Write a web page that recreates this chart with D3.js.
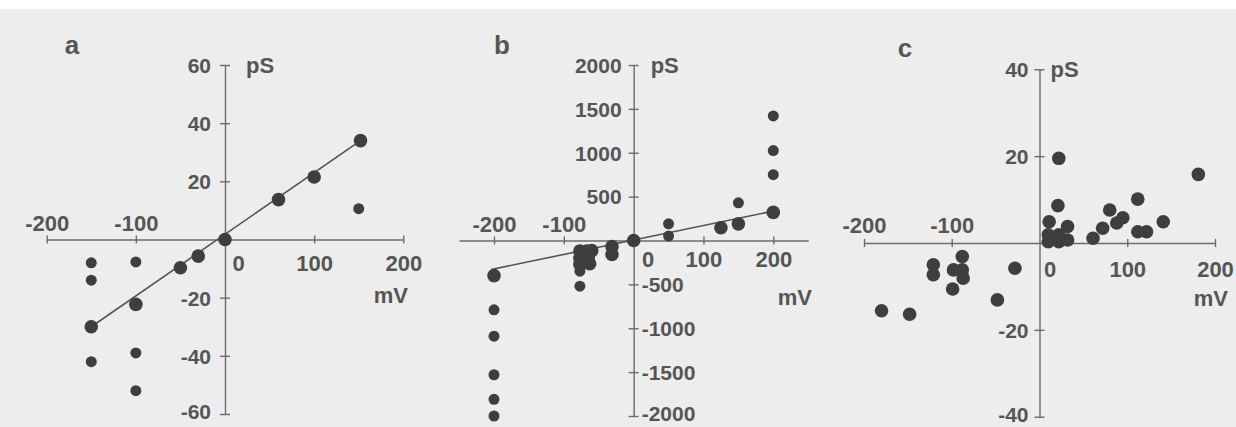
<!DOCTYPE html>
<html lang="en">
<head>
<meta charset="UTF-8">
<title>Conductance vs voltage</title>
<script src="https://d3js.org/d3.v7.min.js"></script>
<style>
  body { margin: 0; background: #ffffff; }
  svg { display: block; }
  text { font-family: "Liberation Sans", Arial, sans-serif; fill: #555; }
</style>
</head>
<body>
<script>
// panel a
const aXTicks = [-200, -100, 0, 100, 200]
const aYTicks = [-60, -40, -20, 20, 40, 60]
const aFitPts = [[-150, -30], [-100, -22.3], [-50, -9.7], [-30, -5.7], [0, 0], [60, 13.7], [100, 21.5], [152, 34]]
const aOtherPts = [[150, 10.6], [-150, -8], [-150, -14], [-150, -42], [-100, -7.7], [-100, -39], [-100, -52]]
const aFitLine = [[-150, -30], [152, 34]]

// panel b
const bXTicks = [-200, -100, 0, 100, 200]
const bYTicks = [-2000, -1500, -1000, -500, 500, 1000, 1500, 2000]
const bFitPts = [[200, 320], [150, 190], [125, 145], [0, 0], [-200, -400], [-31, -70], [-31, -160],
                 [-77, -120], [-67, -120], [-60, -115], [-77, -200], [-65, -190], [-77, -270], [-63, -265]]
const bOtherPts = [[200, 1420], [200, 1025], [200, 750], [150, 430], [50, 190], [50, 50],
                   [-77, -350], [-77, -520], [-200, -790], [-200, -1090], [-200, -1530], [-200, -1810], [-200, -2000]]
const bFitLine = [[-204, -330], [200, 335]]

// panel c
const cXTicks = [-200, -100, 0, 100, 200]
const cYTicks = [-40, -20, 20, 40]
const cPts = [[22, 19.5], [181, 15.8], [21, 8.6], [11, 4.9], [10, 1.9], [10, 0.3], [22, 1.9], [22, 0.3],
              [32, 3.8], [32, 0.7], [61, 1.1], [72, 3.4], [80, 7.6], [88, 4.6], [95, 5.8], [112, 10.1],
              [112, 2.6], [122, 2.6], [141, 4.9],
              [-121, -5.0], [-121, -7.3], [-88, -3.1], [-98, -6.2], [-88, -6.2], [-87, -8.1], [-99, -10.6],
              [-28, -5.8], [-48, -13.1], [-148, -16.4], [-180, -15.6]]

const panels = [
  { letter: "a", letterX: 72, letterY: 45,
    xDomain: [-200, 200], xRange: [46.7, 403.3], yDomain: [-60, 60], yRange: [414, 65],
    xTicks: aXTicks, yTicks: aYTicks, big: aFitPts, small: aOtherPts, fit: aFitLine,
    negDy: -16, posDy: 24, zeroDx: 13, yLabDx: -14, pSDx: 21, mVx: 408, mVy: 295 },
  { letter: "b", letterX: 502, letterY: 45,
    xDomain: [-250, 250], xRange: [459.1, 808.2], yDomain: [-2000, 2000], yRange: [416, 65],
    xTicks: bXTicks, yTicks: bYTicks, big: bFitPts, small: bOtherPts, fit: bFitLine,
    negDy: -16, posDy: 19, zeroDx: 14, yLabDx: -12, negYRight: 8, pSDx: 17, mVx: 812, mVy: 297 },
  { letter: "c", letterX: 905, letterY: 48,
    xDomain: [-200, 200], xRange: [864, 1215], yDomain: [-40, 40], yRange: [416.7, 69.3],
    xTicks: cXTicks, yTicks: cYTicks, big: cPts, small: [], fit: null,
    negDy: -18, posDy: 26, zeroDx: 10, yLabDx: -11, pSDx: 11, mVx: 1228, mVy: 298 }
]

const W = 1236, H = 427
const axisColor = "#6b6b6b"
const dotColor = "#3e3e3e"

const svg = d3.select("body").append("svg").attr("width", W).attr("height", H)
svg.append("rect").attr("x", 0).attr("y", 9).attr("width", W).attr("height", H - 9).attr("fill", "#ededed")

function drawPanel(p) {
  const x = d3.scaleLinear().domain(p.xDomain).range(p.xRange)
  const y = d3.scaleLinear().domain(p.yDomain).range(p.yRange)
  const g = svg.append("g")

  // x axis through y = 0
  const xa = g.append("g")
    .attr("transform", `translate(0,${y(0)})`)
    .call(d3.axisBottom(x).tickValues(p.xTicks).tickSizeOuter(0).tickFormat(d => String(d)))
  xa.select(".domain").attr("stroke", axisColor).attr("stroke-width", 1.4)
  xa.selectAll(".tick line").attr("stroke", d => d === 0 ? "none" : axisColor)
    .attr("stroke-width", 1.4).attr("y1", -4).attr("y2", 4)
  xa.selectAll(".tick text")
    .attr("fill", null).attr("font-size", 22).attr("font-weight", "bold")
    .attr("dy", "0.35em")
    .attr("y", d => d < 0 ? p.negDy : p.posDy)
    .attr("x", d => d === 0 ? p.zeroDx : 0)

  // y axis through x = 0
  const ya = g.append("g")
    .attr("transform", `translate(${x(0)},0)`)
    .call(d3.axisLeft(y).tickValues(p.yTicks).tickSizeOuter(0).tickFormat(d => String(d)))
  ya.select(".domain").attr("stroke", axisColor).attr("stroke-width", 1.4)
  ya.selectAll(".tick line").attr("stroke", axisColor).attr("stroke-width", 1.4).attr("x1", -5).attr("x2", 5)
  ya.selectAll(".tick text")
    .attr("fill", null).attr("font-size", 21).attr("font-weight", "bold")
    .attr("dy", "0.35em")
    // lowest label sits at the bottom edge, nudge it up a little so it stays inside
    .attr("y", d => d === p.yDomain[0] ? -3 : 0)
    .attr("x", d => (p.negYRight && d < 0) ? p.negYRight : p.yLabDx)
    .attr("text-anchor", d => (p.negYRight && d < 0) ? "start" : "end")
  svg.selectAll(".tick text, .domain").attr("font-family", null)

  // unit labels and panel letter
  g.append("text").text("pS").attr("x", x(0) + p.pSDx).attr("y", y(p.yDomain[1]))
    .attr("dy", "0.35em").attr("font-size", 22).attr("font-weight", "bold")
  g.append("text").text("mV").attr("x", p.mVx).attr("y", p.mVy).attr("text-anchor", "end")
    .attr("dy", "0.35em").attr("font-size", 22).attr("font-weight", "bold")
  g.append("text").text(p.letter).attr("x", p.letterX).attr("y", p.letterY).attr("text-anchor", "middle")
    .attr("dy", "0.35em").attr("font-size", 26).attr("font-weight", "bold")

  // regression line
  if (p.fit) {
    g.append("path").datum(p.fit)
      .attr("d", d3.line().x(d => x(d[0])).y(d => y(d[1])))
      .attr("stroke", "#555").attr("stroke-width", 1.6).attr("fill", "none")
  }

  g.selectAll(".small").data(p.small).enter().append("circle")
    .attr("cx", d => x(d[0])).attr("cy", d => y(d[1])).attr("r", 5.5).attr("fill", dotColor)
  g.selectAll(".big").data(p.big).enter().append("circle")
    .attr("cx", d => x(d[0])).attr("cy", d => y(d[1])).attr("r", 6.8).attr("fill", dotColor)
}

panels.forEach(drawPanel)
</script>
</body>
</html>
